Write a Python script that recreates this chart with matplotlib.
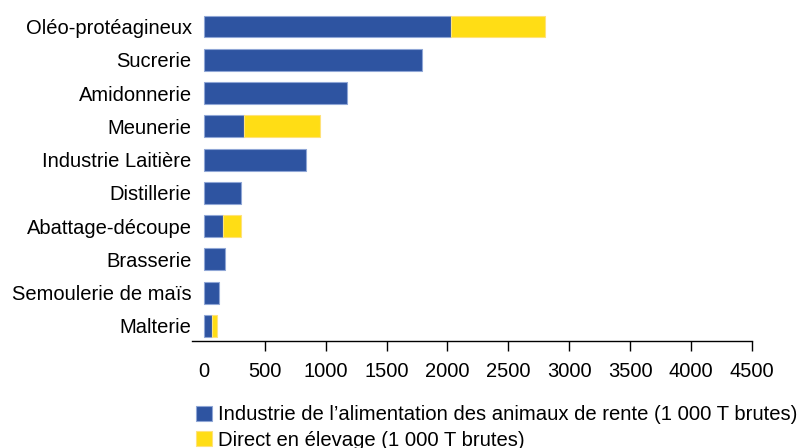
import matplotlib.pyplot as plt
import numpy as np

plt.rcParams['font.family'] = ['Liberation Sans', 'DejaVu Sans']

# donnees (1 000 T brutes), du bas vers le haut
categories = ['Malterie', 'Semoulerie de maïs', 'Brasserie', 'Abattage-découpe',
              'Distillerie', 'Industrie Laitière', 'Meunerie', 'Amidonnerie',
              'Sucrerie', 'Oléo-protéagineux']
industrie = [65, 128, 174, 158, 303, 835, 330, 1176, 1790, 2030]
direct = [41, 0, 0, 145, 0, 0, 622, 0, 0, 770]
xticks = [0, 500, 1000, 1500, 2000, 2500, 3000, 3500, 4000, 4500]

bleu = '#2E54A1'
jaune = '#FFDD15'

fig = plt.figure(figsize=(8.12, 4.48), dpi=100)
ax = fig.add_axes([0.236, 0.239, 0.69, 0.739])

y = np.arange(len(categories))
ax.barh(y, industrie, height=0.66, color=bleu, edgecolor='#8FA6D6', linewidth=0.8,
        label='Industrie de l\u2019alimentation des animaux de rente (1 000 T brutes)')

# seulement les categories qui ont une part directe
idx = [i for i, v in enumerate(direct) if v > 0]
ax.barh(y[idx], [direct[i] for i in idx], left=[industrie[i] for i in idx],
        height=0.66, color=jaune, edgecolor='#FFE27A', linewidth=0.8,
        label='Direct en élevage (1 000 T brutes)')

ax.set_xlim(-100, 4500)
ax.set_ylim(-0.45, 9.5)
ax.set_yticks(y)
ax.set_yticklabels(categories, fontsize=14.5)
ax.set_xticks(xticks)
ax.set_xticklabels([str(v) for v in xticks], fontsize=14.5)
ax.tick_params(axis='y', length=0, pad=0)
ax.tick_params(axis='x', length=7, width=1, pad=8, direction='out')
# pas de graduation sous le 0
ax.xaxis.get_major_ticks()[0].tick1line.set_visible(False)

for s in ['top', 'right', 'left']:
    ax.spines[s].set_visible(False)
ax.spines['bottom'].set_linewidth(1)

handles, labels = ax.get_legend_handles_labels()
fig.legend(handles, labels, loc='upper left', bbox_to_anchor=(0.241, 0.095),
           frameon=False, fontsize=14.6, handlelength=0.79, handleheight=0.79,
           handletextpad=0.3, labelspacing=0.3, borderpad=0, borderaxespad=0)

fig.savefig('out.png', dpi=100)
